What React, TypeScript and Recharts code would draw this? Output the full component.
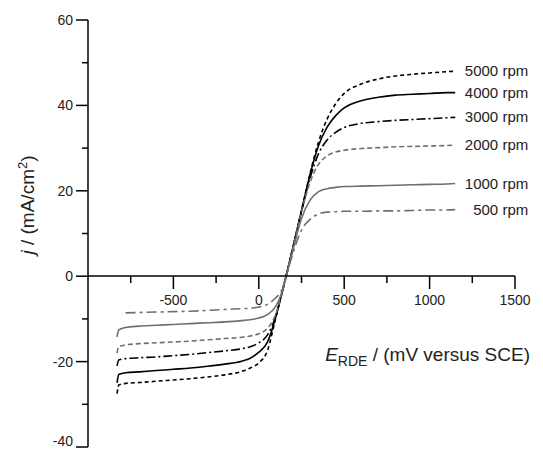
import { LineChart, Line, XAxis, YAxis } from "recharts";

const potential = [-830, -820, -780, -700, -600, -500, -400, -300, -200, -100, -50, 0, 50, 100, 130, 150, 200, 250, 300, 350, 400, 450, 500, 600, 700, 800, 900, 1000, 1100, 1150];

const rpm5000 = [-27.5, -25.5, -25.1, -24.9, -24.6, -24.3, -24.0, -23.6, -23.1, -22.3, -21.5, -20.3, -17.5, -9.6, -4.8, -1.6, 6.8, 15.4, 24.0, 31.5, 36.8, 40.4, 42.8, 45.0, 46.2, 46.9, 47.3, 47.6, 47.9, 48.0];
const rpm4000 = [-25.0, -23.0, -22.6, -22.4, -22.1, -21.8, -21.5, -21.1, -20.6, -19.9, -19.2, -17.8, -15.5, -9.5, -4.8, -1.6, 6.8, 15.3, 23.8, 30.6, 34.9, 37.6, 39.4, 41.1, 41.9, 42.4, 42.6, 42.8, 43.0, 43.0];
const rpm3000 = [-21.0, -19.6, -19.3, -19.1, -18.9, -18.6, -18.3, -17.9, -17.5, -17.0, -16.5, -15.6, -13.8, -9.2, -4.8, -1.6, 6.7, 15.2, 23.0, 28.7, 31.9, 33.7, 34.8, 35.8, 36.2, 36.5, 36.7, 36.9, 37.1, 37.2];
const rpm2000 = [-18.0, -16.5, -16.1, -15.8, -15.6, -15.4, -15.2, -14.9, -14.6, -14.3, -14.0, -13.5, -12.2, -8.8, -4.7, -1.6, 6.6, 15.0, 22.0, 26.2, 28.2, 29.1, 29.5, 29.9, 30.1, 30.3, 30.4, 30.5, 30.6, 30.7];
const rpm1000 = [-14.2, -12.6, -12.0, -11.7, -11.5, -11.3, -11.1, -10.9, -10.7, -10.4, -10.2, -9.8, -9.0, -7.0, -4.4, -1.5, 6.2, 13.5, 17.8, 19.8, 20.5, 20.8, 21.0, 21.1, 21.2, 21.3, 21.4, 21.5, 21.6, 21.7];
const rpm500 = [null, null, -8.6, -8.5, -8.4, -8.3, -8.2, -8.0, -7.8, -7.6, -7.5, -7.2, -6.6, -5.0, -3.6, -1.4, 5.4, 10.8, 13.3, 14.6, 15.0, 15.1, 15.2, 15.2, 15.3, 15.3, 15.4, 15.5, 15.5, 15.6];

const xTicks = [-750, -500, -250, 0, 250, 500, 750, 1000, 1250, 1500];
const yTicks = [-40, -30, -20, -10, 0, 10, 20, 30, 40, 50, 60];

const rows = potential.map((x, i) => ({
  x,
  r5000: rpm5000[i],
  r4000: rpm4000[i],
  r3000: rpm3000[i],
  r2000: rpm2000[i],
  r1000: rpm1000[i],
  r500: rpm500[i],
}));

const FONT = "'Liberation Sans', Arial, sans-serif";
const GRAY = "#6f6f6f";

function YTick({ x, y, payload }: any) {
  const major = payload.value % 20 === 0;
  return (
    <g>
      <line x1={x} x2={x - (major ? 12 : 6)} y1={y} y2={y} stroke="#000" strokeWidth={1.5} />
      {major && (
        <text x={x - 15} y={payload.value === -40 ? y - 1 : y + 5} textAnchor="end" fontSize={14} fontFamily={FONT} fill="#222">
          {payload.value}
        </text>
      )}
    </g>
  );
}

function XTick({ x, y, payload }: any) {
  const major = payload.value % 500 === 0;
  return (
    <g>
      <line x1={x} x2={x} y1={y} y2={y + (major ? 13 : 7)} stroke="#000" strokeWidth={1.5} />
      {major && (
        <text x={x} y={y + 29} textAnchor="middle" fontSize={14} fontFamily={FONT} fill="#222">
          {payload.value}
        </text>
      )}
    </g>
  );
}

function YLabel() {
  return (
    <text transform="translate(34,205) rotate(-90)" textAnchor="middle" fontSize={19} fontFamily={FONT} fill="#222">
      <tspan fontStyle="italic">j</tspan>
      <tspan> / (mA/cm</tspan>
      <tspan fontSize={13} dy={-7}>2</tspan>
      <tspan dy={7}>)</tspan>
    </text>
  );
}

function XLabel() {
  return (
    <text x={530} y={361} textAnchor="end" fontSize={19} fontFamily={FONT} fill="#222">
      <tspan fontStyle="italic">E</tspan>
      <tspan fontSize={14} dy={5}>RDE</tspan>
      <tspan dy={-5}> / (mV versus SCE)</tspan>
    </text>
  );
}

const endLabel = (text: string) => (props: any) => {
  if (props.index !== potential.length - 1) return <g />;
  return (
    <text x={props.x + 73} y={props.y + 5} textAnchor="end" fontSize={15} fontFamily={FONT} fill="#222">
      {text}
    </text>
  );
};

const series = [
  { key: "r5000", name: "5000 rpm", color: "#000", dash: "4 3" },
  { key: "r4000", name: "4000 rpm", color: "#000", dash: undefined },
  { key: "r3000", name: "3000 rpm", color: "#000", dash: "9 3 2 3" },
  { key: "r2000", name: "2000 rpm", color: GRAY, dash: "5 3" },
  { key: "r1000", name: "1000 rpm", color: GRAY, dash: undefined },
  { key: "r500", name: "500 rpm", color: GRAY, dash: "10 4 3 4" },
];

export default function App() {
  return (
    <div style={{ position: "absolute", left: 0, top: 0, width: 543, height: 450, background: "#fff" }}>
      <LineChart width={543} height={450} data={rows} margin={{ top: 20, right: 28, bottom: 3, left: 0 }}>
        <XAxis dataKey="x" type="number" domain={[-1000, 1500]} hide />
        <YAxis
          type="number"
          domain={[-40, 60]}
          ticks={yTicks}
          interval={0}
          width={88}
          tickSize={0}
          tickMargin={0}
          tickLine={false}
          tick={<YTick />}
          axisLine={{ stroke: "#000", strokeWidth: 1.5 }}
          label={<YLabel />}
        />
        {series.map((s) => (
          <Line
            key={s.key}
            type="monotone"
            dataKey={s.key}
            stroke={s.color}
            strokeWidth={1.6}
            strokeDasharray={s.dash}
            dot={false}
            isAnimationActive={false}
            label={endLabel(s.name)}
          />
        ))}
      </LineChart>
      <div style={{ position: "absolute", left: 0, top: 0, pointerEvents: "none" }}>
        <LineChart width={543} height={376} data={rows} margin={{ top: 0, right: 28, bottom: 0, left: 88 }}>
          <XAxis
            dataKey="x"
            type="number"
            domain={[-1000, 1500]}
            ticks={xTicks}
            interval={0}
            height={100}
            tickSize={0}
            tickMargin={0}
            tickLine={false}
            tick={<XTick />}
            axisLine={{ stroke: "#000", strokeWidth: 1.5 }}
            label={<XLabel />}
          />
          <YAxis hide domain={[0, 1]} />
        </LineChart>
      </div>
    </div>
  );
}
